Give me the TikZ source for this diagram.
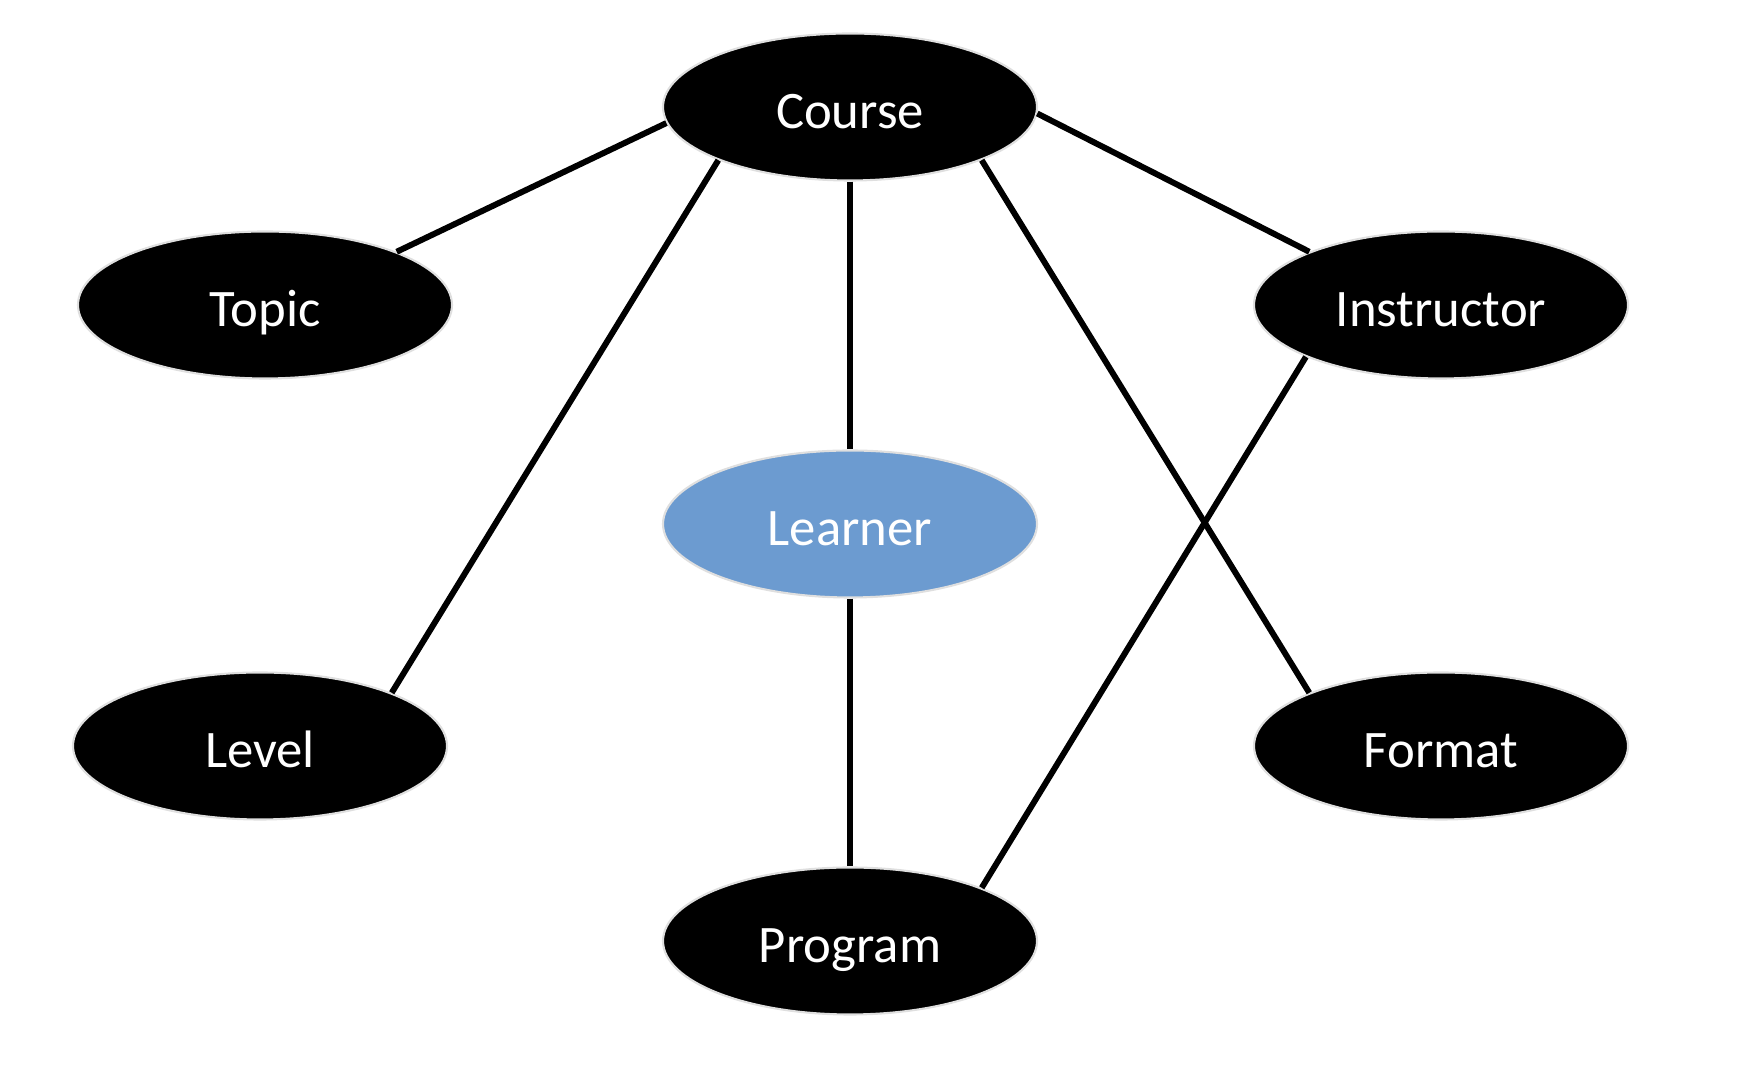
\documentclass[tikz,border=0pt]{standalone}
\usepackage{fontspec}
\setmainfont{Carlito}
\usepackage{tikz}
\usetikzlibrary{shapes.geometric}

\definecolor{learnerblue}{RGB}{108,155,208}

\begin{document}
\begin{tikzpicture}[x=1cm,y=1cm,
  entity/.style={ellipse,fill=black,draw=gray!25,line width=0.6pt,text=white,
    minimum width=3.74cm,minimum height=1.47cm,inner sep=0pt,
    text height=13pt,text depth=1pt,
    font=\fontsize{15}{17}\selectfont},
  link/.style={line width=1.7pt}]
\useasboundingbox (0,0) rectangle (17.46,-10.78);

\node[entity] (course) at (8.50,-1.07) {Course};
\node[entity] (topic) at (2.65,-3.05) {Topic};
\node[entity] (instructor) at (14.41,-3.05) {Instructor};
\node[entity,fill=learnerblue] (learner) at (8.50,-5.24) {Learner};
\node[entity] (level) at (2.60,-7.46) {Level};
\node[entity] (format) at (14.41,-7.46) {Format};
\node[entity] (program) at (8.50,-9.41) {Program};

\foreach \a/\b in {course.185/topic.22,course.202/level.22,course.270/learner.90,
  course.338/format.158,course.358/instructor.158,learner.270/program.90,
  instructor.201/program.22} {
\draw[link] (\a) -- (\b);
}
\end{tikzpicture}
\end{document}
